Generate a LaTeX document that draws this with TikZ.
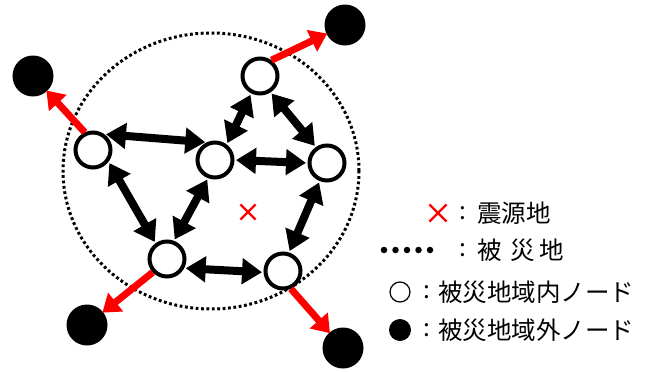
\documentclass[tikz,border=0pt]{standalone}
\usepackage{fontspec}
\newfontfamily\jp{Noto Sans CJK JP}
\usetikzlibrary{arrows.meta,shapes.misc}
\begin{document}
\begin{tikzpicture}[x=1pt,y=-1pt,
  inner/.style={circle,draw=black,line width=4pt,fill=white,minimum size=35pt,inner sep=0pt},
  outer/.style={circle,fill=black,minimum size=41pt,inner sep=0pt},
  link/.style={line width=8pt,{Triangle[length=20pt,width=25pt]}-{Triangle[length=20pt,width=25pt]},shorten <=1.5pt,shorten >=1.5pt},
  escape/.style={draw=red,line width=7pt,-{Triangle[length=17pt,width=23pt]},shorten >=-1pt},
  xmark/.style={cross out,draw=red,line width=2.2pt,minimum size=13pt,inner sep=0pt},
  lbl/.style={font=\jp\fontsize{24.5}{26}\selectfont,inner sep=0pt},
  dotpt/.style={circle,fill=black,minimum size=6.5pt,inner sep=0pt}
  ]
\useasboundingbox (0,0) rectangle (651,372);
% disaster region
\draw[line width=3pt,dash pattern=on 2.8pt off 2.6pt] (211,171) ellipse [x radius=148pt,y radius=138pt];
% epicentre
\node[xmark] (epi) at (248,212) {};
% nodes
\node[inner] (A) at (260,76) {};
\node[inner] (B) at (93,150) {};
\node[inner] (C) at (215,160) {};
\node[inner] (D) at (327,163) {};
\node[inner] (E) at (167,259) {};
\node[inner] (F) at (283,271) {};
\node[outer] (T1) at (345,25) {};
\node[outer] (T2) at (33,76) {};
\node[outer] (T3) at (87,325) {};
\node[outer] (T4) at (343,348) {};
% links
\draw[link] (B.54) -- (C.115);
\draw[link] (A.243) -- (C.53);
\draw[link] (A.303) -- (D.125);
\draw[link] (C.0) -- (D.180);
\draw[link] (B.-37) -- (E.126);
\draw[link] (C.249) -- (E.69);
\draw[link] (D.248) -- (F.72);
\draw[link] (E.-28) -- (F.184);
\draw[escape] (A.54) -- (T1);
\draw[escape] (B.115) -- (T2);
\draw[escape] (E.223) -- (T3);
\draw[escape] (F.-66) -- (T4);
% legend
\node[xmark,minimum size=15pt] (lx) at (438,213) {};
\node[lbl] (c1) at (463,213) {:};
\node[lbl,anchor=west] (t1) at (477,213) {震源地};
\foreach \i/\x in {1/384,2/395.5,3/407,4/418.5,5/430}
  \node[dotpt] (ld\i) at (\x,250) {};
\node[lbl] (c2) at (463,250) {:};
\node[lbl] (t2a) at (490,250) {被};
\node[lbl] (t2b) at (523,250) {災};
\node[lbl] (t2c) at (552,250) {地};
\node[circle,draw=black,line width=1.2pt,minimum size=20pt,inner sep=0pt] (lo) at (400,292) {};
\node[lbl] (c3) at (427,292) {:};
\node[lbl,anchor=west] (t3) at (438,292) {被災地域内ノード};
\node[circle,fill=black,minimum size=22pt,inner sep=0pt] (lf) at (400,330) {};
\node[lbl] (c4) at (427,330) {:};
\node[lbl,anchor=west] (t4) at (438,330) {被災地域外ノード};
\end{tikzpicture}
\end{document}
